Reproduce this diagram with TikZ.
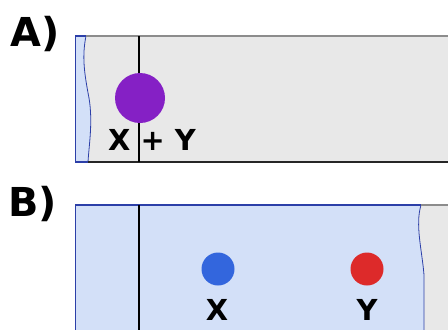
\documentclass[tikz,border=0pt]{standalone}
\usepackage{fontspec}
\setmainfont{DejaVu Sans}
\definecolor{bggray}{HTML}{E8E8E8}
\definecolor{lightblue}{HTML}{D3E0F8}
\definecolor{edgeblue}{HTML}{2C3FA8}
\definecolor{purpledot}{HTML}{8520C5}
\definecolor{bluedot}{HTML}{3366DD}
\definecolor{reddot}{HTML}{DD2A2A}
\begin{document}
\begin{tikzpicture}[x=1bp,y=-1bp,
  paneltitle/.style={font=\fontsize{40}{42}\selectfont\bfseries, anchor=base west, inner sep=0},
  molname/.style={font=\fontsize{29}{31}\selectfont\bfseries, anchor=base, inner sep=0},
  dot/.style={circle, inner sep=0, draw=none},
  divider/.style={line width=1.6bp, black},
  wave/.style={line width=0.8bp, edgeblue}]
\useasboundingbox (0,0) rectangle (448,329);
\begin{scope}
\clip (0,0) rectangle (448,329);
% ---------- Panel A ----------
\fill[bggray] (75,36) rectangle (450,162);
\fill[lightblue] (75,36) -- (86,36) .. controls (82,56) and (84,72) .. (89,98) .. controls (93,122) and (89,145) .. (88,162) -- (75,162) -- cycle;
\draw[wave] (86,36) .. controls (82,56) and (84,72) .. (89,98) .. controls (93,122) and (89,145) .. (88,162);
\draw[line width=1.2bp, gray!90] (86,36) -- (450,36);
\draw[line width=1.2bp, edgeblue] (75,36) -- (86,36);
\draw[line width=1.4bp, black!85] (88,162) -- (450,162);
\draw[line width=1.4bp, edgeblue] (75,162) -- (88,162);
\draw[line width=1bp, edgeblue] (75,36) -- (75,162);
\coordinate (atop) at (139,36);
\coordinate (abot) at (139,162);
\draw[divider] (atop) -- (abot);
\node[dot, fill=purpledot, minimum size=50bp] (xy) at (140,98) {};
\node[molname] (xylabel) at (152,150) {X + Y};
\node[paneltitle] (A) at (10,46) {A)};
% ---------- Panel B ----------
\fill[lightblue] (75,205) rectangle (450,331);
\fill[bggray] (421,205) .. controls (415,225) and (422,250) .. (424,275) -- (424,331) -- (450,331) -- (450,205) -- cycle;
\draw[wave] (421,205) .. controls (415,225) and (422,250) .. (424,275) -- (424,331);
\draw[line width=1.2bp, edgeblue] (75,205) -- (421,205);
\draw[line width=1.2bp, gray!90] (421,205) -- (450,205);
\draw[line width=1bp, edgeblue] (75,205) -- (75,331);
\coordinate (btop) at (139,205);
\coordinate (bbot) at (139,331);
\draw[divider] (btop) -- (bbot);
\node[dot, fill=bluedot, minimum size=33bp] (x) at (218,269) {};
\node[dot, fill=reddot, minimum size=33bp] (y) at (367,269) {};
\node[molname] (xlabel) at (217,320) {X};
\node[molname] (ylabel) at (367,320) {Y};
\node[paneltitle] (B) at (8,216) {B)};
\end{scope}
\end{tikzpicture}
\end{document}
